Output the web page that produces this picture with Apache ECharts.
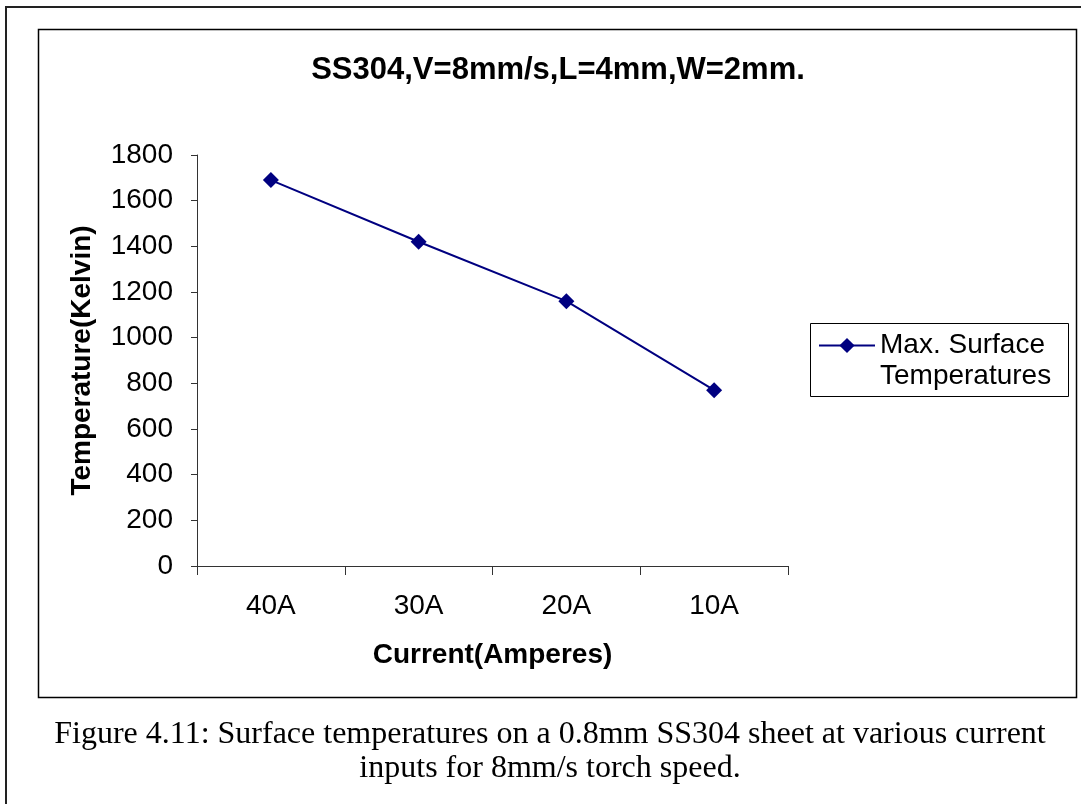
<!DOCTYPE html>
<html>
<head>
<meta charset="utf-8">
<script src="https://cdn.jsdelivr.net/npm/echarts@6/dist/echarts.min.js"></script>
<style>
html,body{margin:0;padding:0;background:#fff;}
#chart{width:1081px;height:804px;}
</style>
</head>
<body>
<div id="chart"></div>
<script>
var categories = ['40A', '30A', '20A', '10A'];
var maxSurfaceTemps = [1690, 1420, 1160, 770];
var yTicks = { min: 0, max: 1800, interval: 200 };
var seriesName = 'Max. Surface\nTemperatures';
var chartTitle = 'SS304,V=8mm/s,L=4mm,W=2mm.';
var xName = 'Current(Amperes)';
var yName = 'Temperature(Kelvin)';
var captionLines = [
  'Figure 4.11: Surface temperatures on a 0.8mm SS304 sheet at various current',
  'inputs for 8mm/s torch speed.'
];

var chart = echarts.init(document.getElementById('chart'), null, {renderer: 'canvas'});
var axisColor = '#333';
var sans = 'Liberation Sans, Arial';
var option = {
  backgroundColor: '#fff',
  animation: false,
  title: {
    text: chartTitle,
    left: 553,
    top: 50,
    textAlign: 'center',
    textStyle: { fontFamily: sans, fontWeight: 'bold', fontSize: 31, color: '#000' }
  },
  legend: {
    left: 818,
    top: 299,
    orient: 'vertical',
    borderWidth: 0,
    padding: 0,
    itemWidth: 56,
    itemHeight: 19,
    itemGap: 0,
    formatter: function (name) { return ' \n' + name; },
    textStyle: { fontFamily: sans, fontSize: 28, color: '#000', lineHeight: 31 },
    data: [seriesName]
  },
  grid: { left: 197, top: 155, width: 591, height: 411, containLabel: false },
  xAxis: {
    type: 'category',
    data: categories,
    boundaryGap: true,
    name: xName,
    nameLocation: 'middle',
    nameGap: 75,
    nameTextStyle: { fontFamily: sans, fontWeight: 'bold', fontSize: 28, color: '#000' },
    axisLine: { show: true, lineStyle: { color: axisColor, width: 1 } },
    axisTick: { show: true, length: 9, inside: false, alignWithLabel: false, lineStyle: { color: axisColor } },
    axisLabel: { margin: 26, fontFamily: sans, fontSize: 28, color: '#000' },
    splitLine: { show: false }
  },
  yAxis: {
    type: 'value',
    min: yTicks.min,
    max: yTicks.max,
    interval: yTicks.interval,
    name: yName,
    nameLocation: 'middle',
    nameGap: 101,
    nameRotate: 90,
    nameTextStyle: { fontFamily: sans, fontWeight: 'bold', fontSize: 28, color: '#000' },
    axisLine: { show: true, lineStyle: { color: axisColor, width: 1 } },
    axisTick: { show: true, length: 6, inside: false, lineStyle: { color: axisColor } },
    axisLabel: { margin: 24, fontFamily: sans, fontSize: 28, color: '#000', formatter: function (v) { return String(v); } },
    splitLine: { show: false }
  },
  series: [{
    name: seriesName,
    type: 'line',
    data: maxSurfaceTemps,
    symbol: 'diamond',
    symbolSize: 16,
    color: '#000080',
    lineStyle: { color: '#000080', width: 2 },
    itemStyle: { color: '#000080' }
  }],
  graphic: [
    { type: 'rect', shape: { x: 6, y: 7, width: 1200, height: 1000 }, style: { fill: 'none', stroke: '#222', lineWidth: 2 }, silent: true, z: -1 },
    { type: 'rect', shape: { x: 38.5, y: 29.5, width: 1038, height: 668 }, style: { fill: 'none', stroke: '#000', lineWidth: 1.5 }, silent: true, z: -1 },
    { type: 'rect', shape: { x: 810.5, y: 323.5, width: 258, height: 73 }, style: { fill: 'none', stroke: '#000', lineWidth: 1 }, silent: true, z: -1 },
    { type: 'text', x: 550, y: 735, style: { text: captionLines[0], font: '32px "Liberation Serif", "Times New Roman", serif', fill: '#000', textAlign: 'center', textVerticalAlign: 'middle' }, silent: true },
    { type: 'text', x: 550, y: 769, style: { text: captionLines[1], font: '32px "Liberation Serif", "Times New Roman", serif', fill: '#000', textAlign: 'center', textVerticalAlign: 'middle' }, silent: true }
  ]
};
chart.setOption(option);
</script>
</body>
</html>
